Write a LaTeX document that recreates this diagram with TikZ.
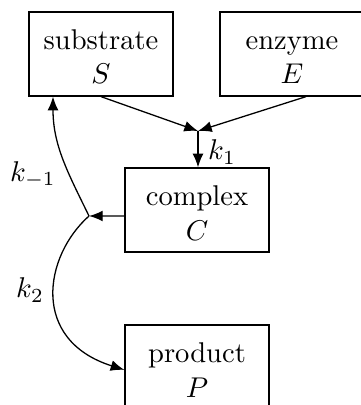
\documentclass[tikz,border=0pt]{standalone}
\usetikzlibrary{arrows.meta}
\newcommand{\tstrut}{\rule{0pt}{9pt}}
\begin{document}
\begin{tikzpicture}[x=0.35pt,y=-0.35pt,
  box/.style={draw, align=center, minimum width=50.4pt, minimum height=29.4pt, inner sep=0pt, line width=0.45pt},
  arr/.style={-{Latex[length=4.8pt,width=3.8pt]}, line width=0.45pt},
  lbl/.style={inner sep=0pt}]
\useasboundingbox (0,0) rectangle (360,405);
\node[box] (sub) at (101,54) {\tstrut substrate\\$S$};
\node[box] (enz) at (292,54) {\tstrut enzyme\\$E$};
\node[box] (cpx) at (197,210) {\tstrut complex\\$C$};
\node[box] (prd) at (197,367) {\tstrut product\\$P$};
\coordinate (j1) at (198,131);
\coordinate (j2) at (89,216);
\draw[arr] (sub.south) -- (j1);
\draw[arr] ([xshift=4.9pt]enz.south) -- (j1);
\draw[arr] (j1) -- (j1 |- cpx.north);
\draw[arr] ([yshift=-2.1pt]cpx.west) -- (j2);
\draw[arr] (j2) to[out=116,in=-90] ([xshift=-16.8pt]sub.south);
\draw[arr] (j2) .. controls (44,256) and (30,340) .. ([yshift=-1pt]prd.west);
\node[lbl] (k1) at (222,152) {$k_1$};
\node[lbl] (km) at (33,175) {$k_{-1}$};
\node[lbl] (k2) at (30,290) {$k_2$};
\end{tikzpicture}
\end{document}
